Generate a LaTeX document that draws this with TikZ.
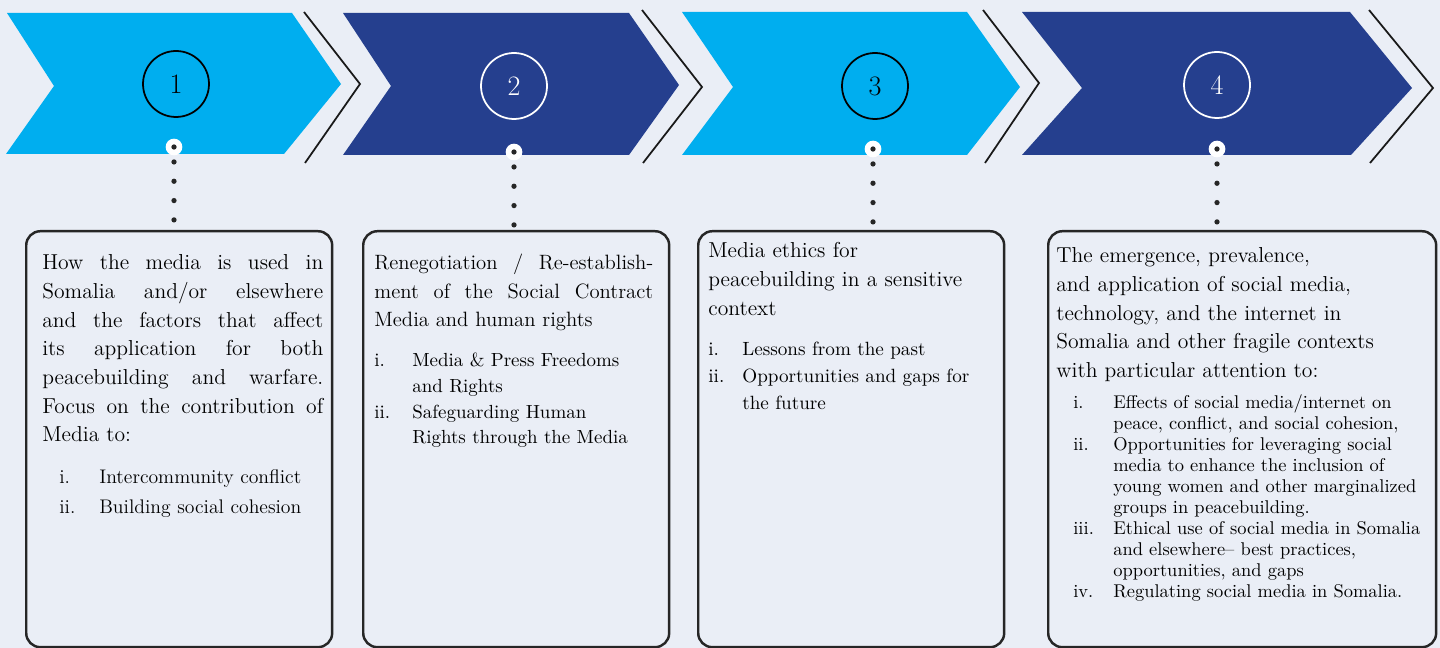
\documentclass[tikz,border=0pt]{standalone}
\definecolor{skyblue}{RGB}{0,174,239}
\definecolor{navy}{RGB}{37,63,142}
\definecolor{paper}{RGB}{234,238,246}
\hyphenpenalty=10000
\exhyphenpenalty=10000
\newcommand{\pitem}[3][0.8cm]{\hangindent=#1\hangafter=1\noindent\makebox[#1][l]{#2}#3\par}

\begin{document}
\begin{tikzpicture}[x=0.02cm,y=-0.02cm,
    rim/.style={draw=black!90,line width=1pt},
    ring/.style={circle,draw=#1,text=#1,line width=1pt,minimum size=1.32cm,inner sep=0pt,
      font=\fontsize{16}{16}\selectfont},
    knob/.style={circle,fill=white,minimum size=9.5pt,inner sep=0pt,
      path picture={\fill[black!85] (path picture bounding box.center) circle (1.5pt);}},
    dots/.style={draw=black!85,line width=3pt,line cap=round,dash pattern=on 0pt off 11pt,
      shorten <=8.5pt},
    panel/.style={draw=black!85,line width=1.4pt,rounded corners=8pt,anchor=north west,
      minimum width=6.12cm,minimum height=8.32cm,inner sep=0pt},
    maintext/.style={anchor=base west,inner sep=0pt,font=\fontsize{12.3}{16.3}\selectfont},
    listtext/.style={anchor=base west,inner sep=0pt,align=left}]

      \fill[paper] (0,0) rectangle (1440,648);
      \useasboundingbox (0,0) rectangle (1440,648);

      % chevrons
      \fill[skyblue] (7,13) -- (292,13) -- (341,84) -- (284,154) -- (6,154) -- (54,86) -- cycle;
      \fill[navy] (343,13) -- (629,13) -- (679,85) -- (629,155) -- (343,155) -- (391,86) -- cycle;
      \fill[skyblue] (682,12) -- (967,12) -- (1020,87) -- (967,155) -- (682,155) -- (733,87) -- cycle;
      \fill[navy] (1022,12) -- (1350,12) -- (1412,88) -- (1351,155) -- (1022,155) -- (1082,88) -- cycle;

      \draw[rim] (304,12) -- (360,84) -- (305,163);
      \draw[rim] (642,10) -- (702,87) -- (643,163);
      \draw[rim] (983,10) -- (1039,83) -- (985,163);
      \draw[rim] (1369,10) -- (1433,88) -- (1370,163);

      \node[ring=black] (numA) at (176,84) {1};
      \node[ring=white] (numB) at (514,86) {2};
      \node[ring=black] (numC) at (875,86) {3};
      \node[ring=white] (numD) at (1217,85) {4};

      % boxes
      \node[panel] (boxA) at (25,230) {};
      \node[panel] (boxB) at (362,230) {};
      \node[panel] (boxC) at (697,230) {};
      \node[panel,minimum width=7.76cm] (boxD) at (1047,230) {};

      \node[knob] (knobA) at (174,147) {};
      \node[knob] (knobB) at (514,152) {};
      \node[knob] (knobC) at (873,149) {};
      \node[knob] (knobD) at (1217,149) {};

      \draw[dots] (knobA.center) -- (knobA |- boxA.north);
      \draw[dots] (knobB.center) -- (knobB |- boxB.north);
      \draw[dots] (knobC.center) -- (knobC |- boxC.north);
      \draw[dots] (knobD.center) -- (knobD |- boxD.north);

      % box texts
      \node[maintext,text width=5.62cm,align=justify] (textA) at (42,270)
        {How the media is used in\linebreak Somalia and/or elsewhere\linebreak
         and the factors that affect\linebreak its application for both\linebreak
         peacebuilding and warfare.\linebreak Focus on the contribution of\linebreak
         Media to:};
      \node[listtext,text width=5cm,font=\fontsize{11.2}{17.6}\selectfont] (listA) at (59,483)
        {\pitem{i.}{Intercommunity conflict}
         \pitem{ii.}{Building social cohesion}};

      \node[maintext,text width=5.58cm,align=justify,font=\fontsize{11.8}{16.2}\selectfont]
        (textB) at (374,270)
        {Renegotiation / Re-establish-\linebreak ment of the Social Contract\linebreak
         Media and human rights};
      \node[listtext,text width=5.4cm,font=\fontsize{10.8}{14.6}\selectfont] (listB) at (374,367)
        {\pitem[0.76cm]{i.}{Media \& Press Freedoms\newline and Rights}
         \pitem[0.76cm]{ii.}{Safeguarding Human\newline Rights through the Media}};

      \node[maintext,text width=5.6cm,align=left] (textC) at (708,258)
        {Media ethics for\\peacebuilding in a sensitive\\context};
      \node[listtext,text width=5.6cm,font=\fontsize{10.9}{15.3}\selectfont] (listC) at (708,356)
        {\pitem[0.68cm]{i.}{Lessons from the past}
         \pitem[0.68cm]{ii.}{Opportunities and gaps for\newline the future}};

      \node[maintext,text width=7.3cm,align=left] (textD) at (1056,263)
        {The emergence, prevalence,\\and application of social media,\\
         technology, and the internet in\\Somalia and other fragile contexts\\
         with particular attention to:};
      \node[listtext,text width=7.2cm,font=\fontsize{10.5}{12}\selectfont] (listD) at (1073,408)
        {\pitem{i.}{Effects of social media/internet on\newline peace, conflict, and social cohesion,}
         \pitem{ii.}{Opportunities for leveraging social\newline media to enhance the inclusion of\newline
           young women and other marginalized\newline groups in peacebuilding.}
         \pitem{iii.}{Ethical use of social media in Somalia\newline and elsewhere-- best practices,\newline
           opportunities, and gaps}
         \pitem{iv.}{Regulating social media in Somalia.}};
    \end{tikzpicture}
\end{document}
